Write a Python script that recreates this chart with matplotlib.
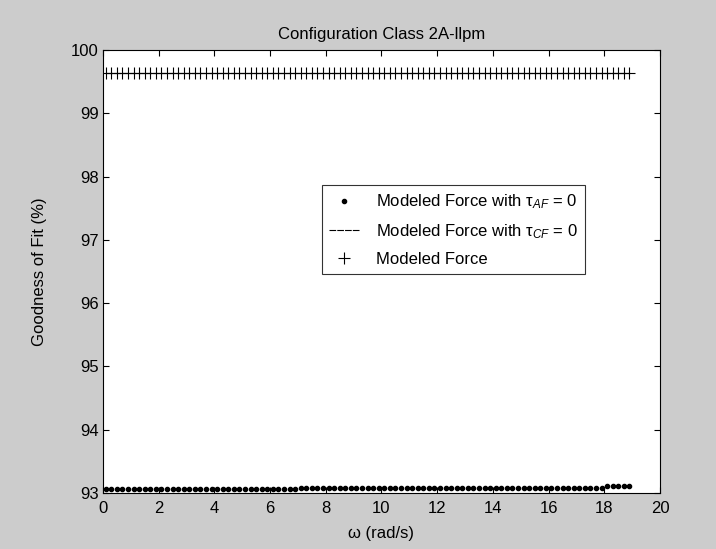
"""
Goodness of fit vs. excitation frequency for configuration class 2A-llpm,
drawn in the style of a MATLAB figure window.
"""

import matplotlib
matplotlib.use('Agg')
import matplotlib.pyplot as plt
import numpy as np

plt.rcParams['font.family'] = ['Liberation Sans', 'DejaVu Sans']
plt.rcParams['mathtext.fontset'] = 'custom'
plt.rcParams['mathtext.rm'] = 'Liberation Sans'
plt.rcParams['mathtext.it'] = 'Liberation Sans:italic'

# Data
# -----------------------------------------------------------------------------

# frequency samples (rad/s), 0.1 to 18.9 every 0.2
omega = np.round(np.arange(0.1, 18.95, 0.2), 1)

# modeled force with tau_AF = 0 (three plateaus)
fit_af = [93.06] * 35 + [93.085] * 55 + [93.11] * 5

# modeled force with tau_CF = 0 and full modeled force sit on the same level
fit_cf = [99.64] * len(omega)
fit_full = [99.64] * len(omega)

# Plot
# -----------------------------------------------------------------------------

FS = 12

fig = plt.figure(figsize=(7.16, 5.49), dpi=100, facecolor='#cccccc')
ax = fig.add_axes([0.1438, 0.102, 0.7780, 0.8069])
ax.set_facecolor('white')

ax.plot(omega, fit_af, '.', color='k', markersize=6,
        label='Modeled Force with τ$_{AF}$ = 0')
ax.plot(omega, fit_cf, '--', color='k', linewidth=0.8, dashes=(6, 1),
        label='Modeled Force with τ$_{CF}$ = 0')
ax.plot(omega, fit_full, '+', color='k', markersize=8, markeredgewidth=0.8,
        label='Modeled Force')

ax.set_xlim(0, 20)
ax.set_ylim(93, 100)
ax.set_xticks(range(0, 21, 2))
ax.set_yticks(range(93, 101))
ax.tick_params(direction='in', top=True, right=True, length=4, width=0.8,
               labelsize=FS)
ax.tick_params(axis='x', pad=6)
ax.tick_params(axis='y', pad=3)
for s in ax.spines.values():
    s.set_linewidth(0.8)

ax.set_title('Configuration Class 2A-llpm', fontsize=FS, pad=8)
ax.set_xlabel('ω (rad/s)', fontsize=FS, labelpad=7)
ax.set_ylabel('Goodness of Fit (%)', fontsize=FS, labelpad=17)

leg = ax.legend(loc='upper left', bbox_to_anchor=(0.393, 0.695),
                fontsize=FS, frameon=True, fancybox=False,
                edgecolor='k', handlelength=1.8, borderpad=0.45,
                labelspacing=0.65, handletextpad=1.0, borderaxespad=0)
leg.get_frame().set_linewidth(0.8)

fig.savefig('out.png', dpi=100, facecolor=fig.get_facecolor())
